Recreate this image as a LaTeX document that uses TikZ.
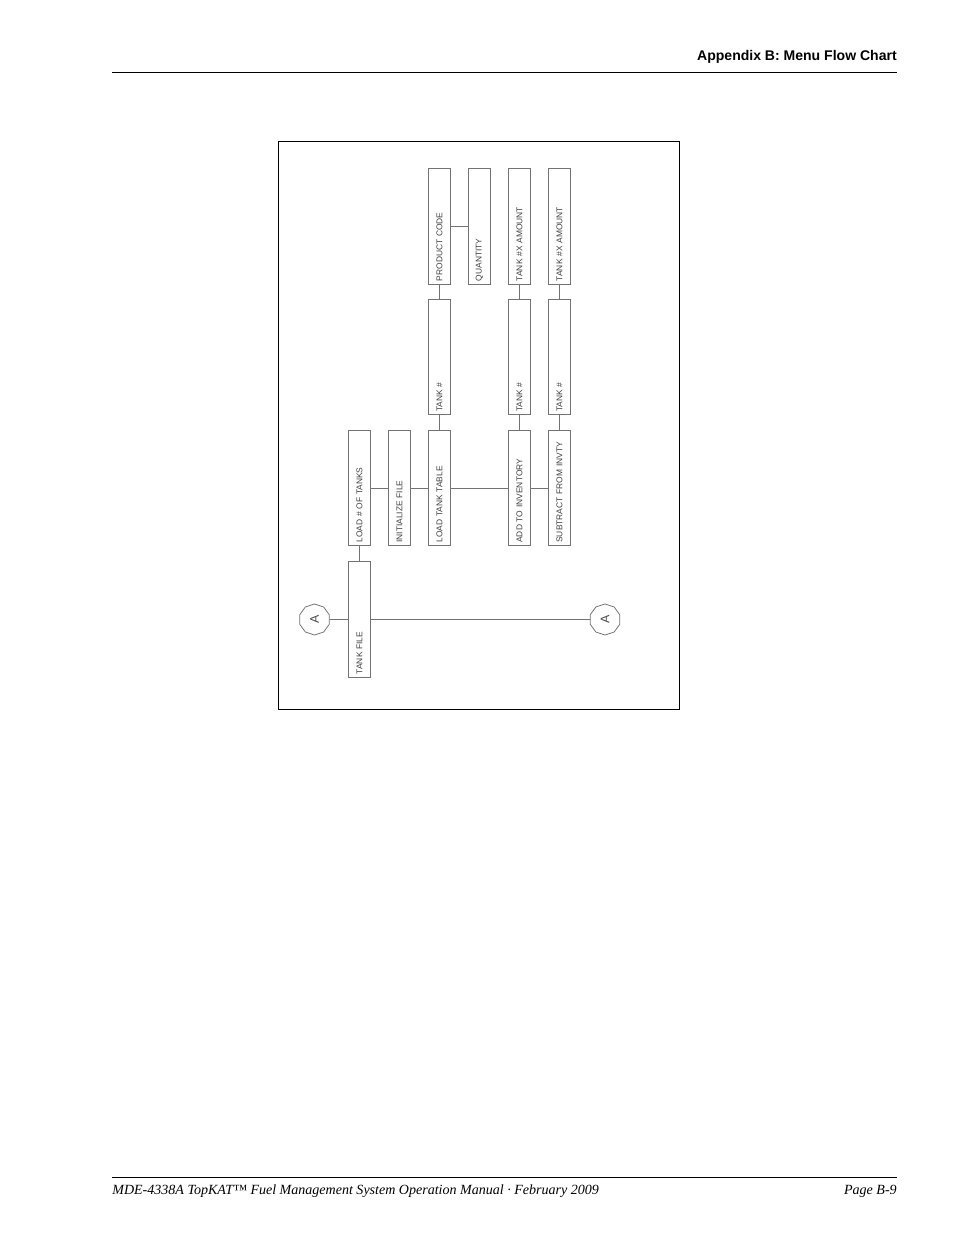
\documentclass[tikz,border=0pt]{standalone}
\usepackage{fontspec}
\usepackage{tikz}
\usetikzlibrary{shapes.geometric}
\setmainfont{Liberation Serif}
\newfontfamily\headfont{Liberation Sans}
\newfontfamily\menufont{Liberation Sans}
\tikzset{menubox/.style = {draw=black!55, line width=0.5pt, rotate=90,
                           minimum height=14.4pt, inner xsep=2pt, inner ysep=0pt,
                           text width=70.1pt, align=left,
                           font=\menufont\fontsize{5.4}{6}\selectfont, text=black!75},
         offpage/.style = {draw=black!55, line width=0.5pt, regular polygon, regular polygon sides=10,
                           minimum size=19.9pt, inner sep=0pt, rotate=90,
                           font=\menufont\fontsize{8}{9}\selectfont, text=black!70},
         link/.style = {draw=black!55, line width=0.5pt},
         pagetext/.style = {inner sep=0pt, font=\itshape\fontsize{9}{11}\selectfont}}

\begin{document}
\begin{tikzpicture}[x=0.641509pt, y=-0.641509pt]
      \useasboundingbox (0, 0) rectangle (954, 1235);

      \node [anchor=base east, inner sep=0pt, font=\headfont\bfseries\fontsize{9}{11}\selectfont] (head) at (897, 60.7) {Appendix B: Menu Flow Chart};
      \draw [line width=0.7pt] (112, 72.3) -- (897, 72.3);

      \draw [line width=0.6pt] (278, 141) rectangle (679, 709);

      \node [menubox] (prodcode) at (439.5, 226.5) {PRODUCT CODE};
      \node [menubox] (quantity) at (479.5, 226.5) {QUANTITY};
      \node [menubox] (addamount) at (519.5, 226.5) {TANK \#X AMOUNT};
      \node [menubox] (subamount) at (559.5, 226.5) {TANK \#X AMOUNT};

      \node [menubox] (tanknum) at (439.5, 357) {TANK \#};
      \node [menubox] (addtank) at (519.5, 357) {TANK \#};
      \node [menubox] (subtank) at (559.5, 357) {TANK \#};

      \node [menubox] (loadnum) at (359.5, 488) {LOAD \# OF TANKS};
      \node [menubox] (initfile) at (399.5, 488) {INITIALIZE FILE};
      \node [menubox] (loadtable) at (439.5, 488) {LOAD TANK TABLE};
      \node [menubox] (addinv) at (519.5, 488) {ADD TO INVENTORY};
      \node [menubox] (subinv) at (559.5, 488) {SUBTRACT FROM INVTY};

      \node [menubox] (tankfile) at (359.5, 619.5) {TANK FILE};
      \node [offpage] (aleft) at (314.5, 619.5) {A};
      \node [offpage] (aright) at (605, 619.5) {A};

      \draw [link] (aleft) -- (tankfile);
      \draw [link] (tankfile) -- (aright);
      \draw [link] (tankfile) -- (loadnum);

      \draw [link] (loadnum) -- (initfile);
      \draw [link] (initfile) -- (loadtable);
      \draw [link] (loadtable) -- (addinv);
      \draw [link] (addinv) -- (subinv);

      \draw [link] (loadtable) -- (tanknum);
      \draw [link] (addinv) -- (addtank);
      \draw [link] (subinv) -- (subtank);

      \draw [link] (tanknum) -- (prodcode);
      \draw [link] (addtank) -- (addamount);
      \draw [link] (subtank) -- (subamount);
      \draw [link] (prodcode) -- (quantity);

      \draw [line width=0.7pt] (112, 1177.3) -- (897, 1177.3);
      \node [pagetext, anchor=base west] (foot) at (112, 1194.3) {MDE-4338A TopKAT™ Fuel Management System Operation Manual · February 2009};
      \node [pagetext, anchor=base east] (page) at (897, 1194.3) {Page B-9};
    \end{tikzpicture}
\end{document}
